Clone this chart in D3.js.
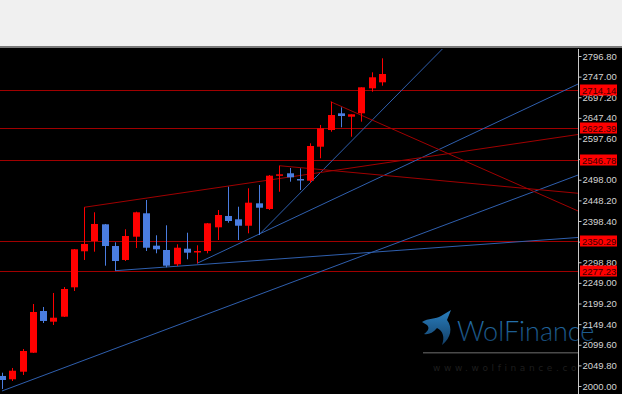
<!DOCTYPE html>
<meta charset="utf-8">
<style>
	body { margin: 0; background: #000; }
	svg { display: block; }
	.axis text { font-family: "Liberation Sans", Arial, sans-serif; font-size: 9.5px; fill: #d4d4d4; }
	.axis path, .axis line { stroke: #c8c8c8; }
</style>
<body>
	<svg></svg>
	<script src="https://cdn.jsdelivr.net/npm/d3@7"></script>
	<script>

		// candle data (left to right)
		var opens  = [2024.2, 2016.2, 2034.5, 2080.4, 2181.1, 2155.3, 2167.4, 2238.3, 2325.3, 2350.1,
		              2390.4, 2338.0, 2304.3, 2360.5, 2417.0, 2338.8, 2328.4, 2293.8, 2331.5, 2322.8,
		              2326.0, 2383.2, 2410.5, 2402.5, 2387.0, 2441.1, 2427.4, 2509.5, 2513.6, 2499.8,
		              2495.7, 2577.8, 2618.1, 2658.4, 2650.2, 2658.4, 2718.8, 2733.3];
		var highs  = [2032.1, 2043.5, 2089.3, 2198.0, 2190.8, 2224.6, 2239.0, 2330.8, 2431.5, 2419.4,
		              2391.2, 2346.9, 2378.4, 2420.9, 2449.1, 2363.9, 2388.0, 2342.1, 2370.1, 2339.7,
		              2393.6, 2424.9, 2481.2, 2432.9, 2477.4, 2485.3, 2509.5, 2531.9, 2526.4, 2525.6,
		              2586.0, 2630.2, 2686.4, 2672.9, 2656.0, 2721.2, 2757.4, 2791.2];
		var lows   = [1992.8, 2012.1, 2026.6, 2079.7, 2152.1, 2147.3, 2166.6, 2229.4, 2304.3, 2324.3,
		              2290.5, 2278.4, 2301.8, 2333.2, 2326.0, 2320.4, 2286.6, 2289.7, 2305.9, 2296.3,
		              2320.4, 2352.5, 2394.3, 2352.5, 2368.7, 2364.6, 2425.0, 2469.1, 2493.3, 2473.3,
		              2490.2, 2549.8, 2614.0, 2624.6, 2601.9, 2638.2, 2710.6, 2725.1];
		var closes = [2014.5, 2036.9, 2084.5, 2178.7, 2157.0, 2164.9, 2234.2, 2330.1, 2342.9, 2391.2,
		              2338.0, 2301.8, 2362.2, 2419.4, 2333.9, 2330.1, 2290.5, 2333.9, 2321.9, 2326.0,
		              2392.8, 2412.9, 2398.4, 2387.0, 2442.6, 2430.5, 2507.8, 2511.1, 2503.9, 2496.7,
		              2579.5, 2622.2, 2654.3, 2651.9, 2656.0, 2721.2, 2745.4, 2753.3];

		// horizontal levels
		var levels = [2714.14, 2622.39, 2546.78, 2350.29, 2277.23];

		// trend lines as [candle index, price] pairs
		var blueLines = [
			[[0, 1988.0], [56.1, 2509.5]],
			[[11, 2278.4], [56.1, 2358.6]],
			[[19, 2296.3], [56.1, 2729.2]],
			[[25, 2364.6], [44, 2841.9]]
		];
		var redLines = [
			[[8, 2431.5], [56.1, 2607.3]],
			[[27, 2531.9], [56.1, 2465.3]],
			[[32, 2686.4], [56.1, 2422.5]]
		];

		// price axis labels
		var tickPrices = [2796.80, 2747.00, 2697.20, 2647.40, 2597.60, 2547.80, 2498.00, 2448.20,
		                  2398.40, 2348.60, 2298.80, 2249.00, 2199.20, 2149.40, 2099.60, 2049.80, 2000.00];

		const RED = "#ff0000", BLUE = "#4a7de0";

		var width = 622, height = 394;
		var plotTop = 49, plotRight = 578;

		var svg = d3.select("svg")
				.attr("width", width)
				.attr("height", height);

		var x = d3.scaleLinear().domain([0, 37]).range([2, 382]);
		var y = d3.scaleLinear().domain([2000, 2796.8]).range([386, 56]);

		// BACKGROUND-----------------------------------------------
		svg.append("rect").attr("width", width).attr("height", height).attr("fill", "#000");
		svg.append("rect").attr("width", width).attr("height", 47).attr("fill", "#f0f0f0");
		svg.append("rect").attr("y", 46).attr("width", width).attr("height", 2).attr("fill", "#7a7a7a");

		svg.append("clipPath").attr("id", "plot")
			.append("rect")
			.attr("x", 0).attr("y", plotTop)
			.attr("width", plotRight).attr("height", height - plotTop);

		// WATERMARK-----------------------------------------------
		var grad = svg.append("defs").append("linearGradient")
				.attr("id", "wolf").attr("x1", 0).attr("y1", 0).attr("x2", 0).attr("y2", 1);
		grad.append("stop").attr("offset", "0%").attr("stop-color", "#2a7fbf");
		grad.append("stop").attr("offset", "100%").attr("stop-color", "#123e66");

		var wm = svg.append("g");
		wm.append("path")
			.attr("d", "M422,322 C428,318 436,319 441,316 L451,310 L447,320 C453,328 451,338 442,345 " +
			           "C445,337 443,331 437,328 C433,333 428,335 424,334 C428,331 430,328 427,325 Z")
			.attr("fill", "url(#wolf)");
		wm.append("text")
			.attr("x", 457).attr("y", 341)
			.attr("font-family", "Lato, sans-serif")
			.attr("font-weight", 300)
			.attr("font-size", 27)
			.attr("fill", "url(#wolf)")
			.text("WolFinance");
		wm.append("rect")
			.attr("x", 423).attr("y", 352).attr("width", 155).attr("height", 1.5)
			.attr("fill", "#4a4a4a");
		wm.append("text")
			.attr("x", 433).attr("y", 371)
			.attr("font-family", "DejaVu Sans, sans-serif")
			.attr("font-size", 9)
			.attr("letter-spacing", 3.6)
			.attr("fill", "#1e1e1e")
			.text("www.wolfinance.co");

		// LEVELS AND TRENDLINES-----------------------------------------------
		var chart = svg.append("g").attr("clip-path", "url(#plot)");

		chart.selectAll(".level")
			.data(levels)
			.enter()
			.append("line")
			.attr("x1", 0).attr("x2", plotRight)
			.attr("y1", function(d){return Math.round(y(d)) + 0.5})
			.attr("y2", function(d){return Math.round(y(d)) + 0.5})
			.attr("stroke", "#a00000")
			.attr("stroke-width", 1.2);

		var line = d3.line()
				.x(function(d){return x(d[0])})
				.y(function(d){return y(d[1])});

		chart.selectAll(".blue")
			.data(blueLines)
			.enter()
			.append("path")
			.attr("d", line)
			.attr("fill", "none")
			.attr("stroke", "#2f5fae")
			.attr("stroke-width", 1);

		chart.selectAll(".redline")
			.data(redLines)
			.enter()
			.append("path")
			.attr("d", line)
			.attr("fill", "none")
			.attr("stroke", "#a00000")
			.attr("stroke-width", 1);

		// CANDLES-----------------------------------------------
		var candles = chart.selectAll(".candle")
				.data(d3.range(opens.length))
				.enter()
				.append("g");

		function candleColor(i)
		{
			return closes[i] >= opens[i] ? RED : BLUE;
		}

		candles.append("line")
			.attr("x1", function(i){return Math.round(x(i)) + 0.5})
			.attr("x2", function(i){return Math.round(x(i)) + 0.5})
			.attr("y1", function(i){return y(highs[i])})
			.attr("y2", function(i){return y(lows[i])})
			.attr("stroke", candleColor)
			.attr("stroke-width", 1);

		candles.append("rect")
			.attr("x", function(i){return Math.round(x(i)) - 3})
			.attr("width", 7)
			.attr("y", function(i){return y(Math.max(opens[i], closes[i]))})
			.attr("height", function(i){return Math.max(1.5, Math.abs(y(opens[i]) - y(closes[i])))})
			.attr("fill", candleColor);

		// PRICE AXIS-----------------------------------------------
		var axis = svg.append("g")
				.attr("class", "axis")
				.attr("transform", "translate(" + (plotRight + 0.5) + ",0)")
				.call(d3.axisRight(y)
					.tickValues(tickPrices)
					.tickSize(3)
					.tickSizeOuter(0)
					.tickPadding(1)
					.tickFormat(d3.format(".2f")));

		axis.select(".domain").attr("d", "M0," + plotTop + "V" + height);

		// level labels on the axis
		var tags = svg.selectAll(".tag")
				.data(levels)
				.enter()
				.append("g")
				.attr("transform", function(d){return "translate(580," + Math.round(y(d)) + ")"});

		tags.append("rect")
			.attr("x", 0).attr("y", -5.5)
			.attr("width", 37).attr("height", 11)
			.attr("fill", RED);

		tags.append("text")
			.attr("x", 2).attr("y", 3.5)
			.attr("font-family", "Liberation Sans, Arial, sans-serif")
			.attr("font-size", 9.5)
			.attr("fill", "#3a0000")
			.text(function(d){return d.toFixed(2)});

	</script>
</body>
</html>
